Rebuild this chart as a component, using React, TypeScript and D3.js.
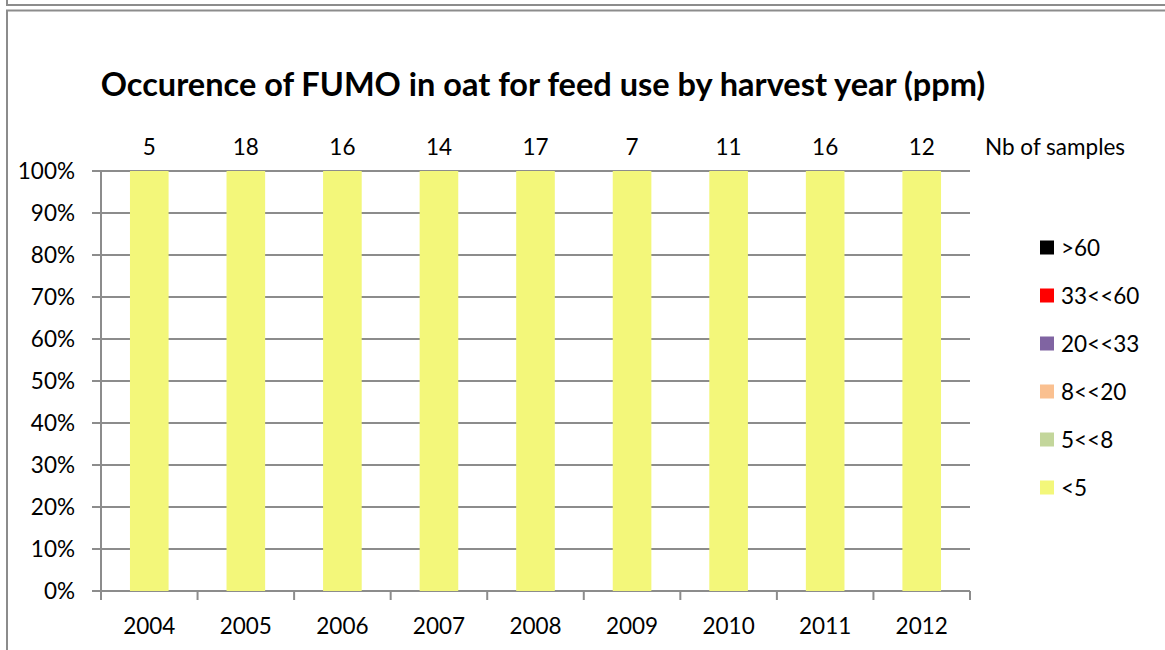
import React from "react";
import * as d3 from "d3";

const years = ["2004", "2005", "2006", "2007", "2008", "2009", "2010", "2011", "2012"];
const sampleCounts = [5, 18, 16, 14, 17, 7, 11, 16, 12];
const classes = ["<5", "5<<8", "8<<20", "20<<33", "33<<60", ">60"];
const classColors = ["#F3F77A", "#C3D69B", "#FAC090", "#8064A2", "#FF0000", "#000000"];
const pctLt5 = [100, 100, 100, 100, 100, 100, 100, 100, 100];
const pct5to8 = [0, 0, 0, 0, 0, 0, 0, 0, 0];
const pct8to20 = [0, 0, 0, 0, 0, 0, 0, 0, 0];
const pct20to33 = [0, 0, 0, 0, 0, 0, 0, 0, 0];
const pct33to60 = [0, 0, 0, 0, 0, 0, 0, 0, 0];
const pctGt60 = [0, 0, 0, 0, 0, 0, 0, 0, 0];
const yTicks = [0, 10, 20, 30, 40, 50, 60, 70, 80, 90, 100];
const title = "Occurence of FUMO in oat for feed use by harvest year (ppm)";

const W = 1165;
const H = 650;
const FONT = "Lato, 'Open Sans', sans-serif";
const GRID = "#8c8c8c";

export default function App() {
  const series = [pctLt5, pct5to8, pct8to20, pct20to33, pct33to60, pctGt60];
  const rows = years.map((y, i) => {
    const r: any = { year: y };
    classes.forEach((c, k) => (r[c] = series[k][i]));
    return r;
  });
  const stacked = d3.stack().keys(classes)(rows);

  const x = d3.scaleBand().domain(years).range([101, 970]).paddingInner(0.6).paddingOuter(0.3);
  const xEdge = d3.scaleLinear().domain([0, years.length]).range([101, 970]);
  const y = d3.scaleLinear().domain([0, 100]).range([591, 171]);

  const legendX = 1040;
  const legendY = d3.scaleLinear().domain([0, 5]).range([487.5, 247.5]);

  return (
    <svg width={W} height={H} style={{ position: "absolute", left: 0, top: 0 }} fontFamily={FONT}>
      <rect width={W} height={H} fill="#fff" />
      {/* frame borders */}
      <path d={`M7,0 V5 H${W}`} fill="none" stroke={GRID} strokeWidth={2} />
      <path d={`M7,${H} V10.5 H${W}`} fill="none" stroke={GRID} strokeWidth={2} />

      <text x={543} y={96} textAnchor="middle" fontSize={32.5} fontWeight="bold" fill="#000">
        {title}
      </text>

      {/* gridlines */}
      {yTicks.map((t) => (
        <line key={t} x1={92} x2={970} y1={y(t)} y2={y(t)} stroke={GRID} strokeWidth={2} />
      ))}
      {/* y axis */}
      <line x1={101} x2={101} y1={y(100)} y2={y(0)} stroke={GRID} strokeWidth={2} />
      {/* x ticks */}
      {d3.range(years.length + 1).map((i) => (
        <line key={i} x1={xEdge(i)} x2={xEdge(i)} y1={y(0)} y2={y(0) + 9} stroke={GRID} strokeWidth={2} />
      ))}

      {/* bars */}
      {stacked.map((s, k) => (
        <g key={s.key} fill={classColors[k]}>
          {s.map((d, i) =>
            d[1] - d[0] > 0 ? (
              <rect key={i} x={x(years[i])} width={x.bandwidth()} y={y(d[1])} height={y(d[0]) - y(d[1])} />
            ) : null
          )}
        </g>
      ))}

      {/* y labels */}
      {yTicks.map((t) => (
        <text key={t} x={75} y={y(t) + 8} textAnchor="end" fontSize={22.5} fill="#000">
          {t}%
        </text>
      ))}
      {/* x labels */}
      {years.map((yr) => (
        <text key={yr} x={(x(yr) as number) + x.bandwidth() / 2} y={634} textAnchor="middle" fontSize={22.5} fill="#000">
          {yr}
        </text>
      ))}
      {/* sample counts */}
      {years.map((yr, i) => (
        <text key={yr} x={(x(yr) as number) + x.bandwidth() / 2} y={155} textAnchor="middle" fontSize={22.5} fill="#000">
          {sampleCounts[i]}
        </text>
      ))}
      <text x={985} y={155} fontSize={22.5} fill="#000">Nb of samples</text>

      {/* legend */}
      {classes.map((c, k) => (
        <g key={c}>
          <rect x={legendX} y={legendY(k) - 7} width={14} height={14} fill={classColors[k]} />
          <text x={1061} y={legendY(k) + 8} fontSize={22.5} fill="#000">{c}</text>
        </g>
      ))}
    </svg>
  );
}
